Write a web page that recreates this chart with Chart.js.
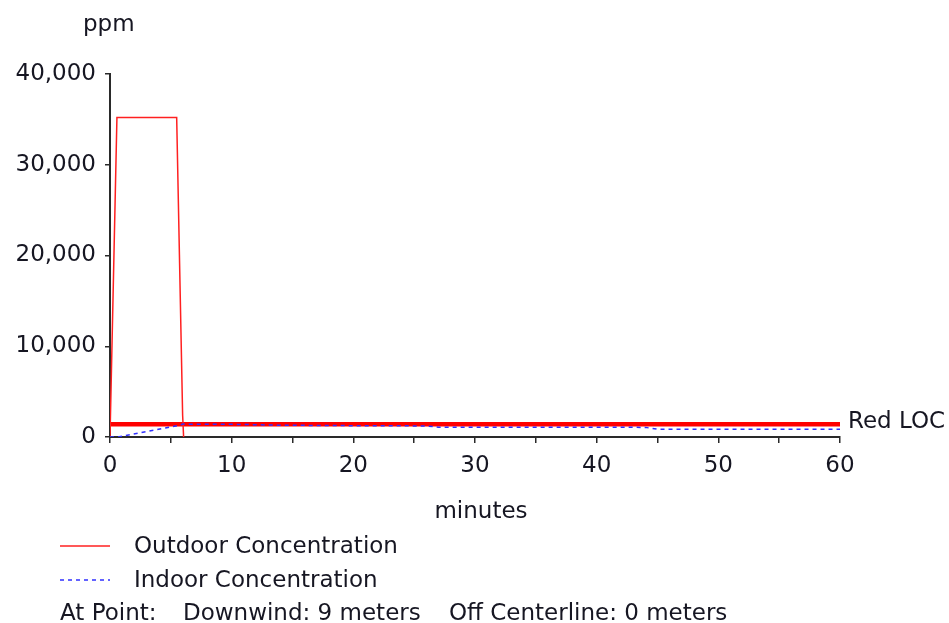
<!DOCTYPE html>
<html>
<head>
<meta charset="utf-8">
<script src="https://cdn.jsdelivr.net/npm/chart.js@4.4.0/dist/chart.umd.min.js"></script>
<style>
  html, body { margin: 0; padding: 0; background: #fff; }
  #wrap { width: 949px; height: 623px; }
</style>
</head>
<body>
<div id="wrap"><canvas id="chart" width="949" height="623"></canvas></div>
<script>
// ---------- Data ----------
const outdoorTime = [0, 0.57, 5.48, 5.97, 6.05];
const outdoorPpm  = [0, 35200, 35200, 2400, 0];

const indoorTime = [0, 0.6, 4.66, 5.5, 6, 10, 14, 20, 26, 27, 35, 44, 45, 60];
const indoorPpm  = [0, 0, 1025, 1240, 1420, 1400, 1300, 1250, 1220, 1080, 1070, 1060, 860, 860];

const locTime = [0, 60];
const locPpm  = [1400, 1400];

const yTicks = [0, 10000, 20000, 30000, 40000];
const xTicks = [0, 10, 20, 30, 40, 50, 60];

const FONT = "DejaVu Sans";
const FSIZE = 23;
const TXT = "#161622";

function pts(xs, ys) {
  return xs.map((x, i) => ({ x: x, y: ys[i] }));
}

// ---------- Extra labels (ppm, minutes, legend, footer) ----------
const labelsPlugin = {
  id: "labels",
  afterDraw(chart) {
    const ctx = chart.ctx;
    ctx.save();
    ctx.fillStyle = TXT;
    ctx.font = FSIZE + "px " + FONT;
    ctx.textBaseline = "alphabetic";

    ctx.textAlign = "left";
    ctx.fillText("ppm", 83, 31);

    ctx.textAlign = "center";
    ctx.fillText("minutes", 481, 518);

    // Red LOC label at end of the line
    const y = chart.scales.y.getPixelForValue(locPpm[1]);
    ctx.textAlign = "left";
    ctx.textBaseline = "middle";
    ctx.fillText("Red LOC", 848, y - 2);

    // legend
    ctx.strokeStyle = "#ff2020";
    ctx.lineWidth = 1.5;
    ctx.beginPath(); ctx.moveTo(60, 546); ctx.lineTo(110, 546); ctx.stroke();
    ctx.strokeStyle = "#3030ff";
    ctx.setLineDash([4, 4]);
    ctx.beginPath(); ctx.moveTo(60, 580); ctx.lineTo(110, 580); ctx.stroke();
    ctx.setLineDash([]);

    ctx.textBaseline = "alphabetic";
    ctx.fillText("Outdoor Concentration", 134, 553);
    ctx.fillText("Indoor Concentration", 134, 587);
    ctx.fillText("At Point:", 60, 620);
    ctx.fillText("Downwind: 9 meters", 183, 620);
    ctx.fillText("Off Centerline: 0 meters", 449, 620);
    ctx.restore();
  }
};

// ---------- Chart ----------
const ctx = document.getElementById("chart").getContext("2d");
new Chart(ctx, {
  type: "line",
  data: {
    datasets: [
      {
        label: "Indoor Concentration",
        data: pts(indoorTime, indoorPpm),
        borderColor: "#3030ff",
        borderWidth: 1.5,
        borderDash: [4, 4],
        pointRadius: 0,
        fill: false,
        order: 0
      },
      {
        label: "Outdoor Concentration",
        data: pts(outdoorTime, outdoorPpm),
        borderColor: "#ff2020",
        borderWidth: 1.5,
        pointRadius: 0,
        fill: false,
        order: 1
      },
      {
        label: "Red LOC",
        data: pts(locTime, locPpm),
        borderColor: "#ff0000",
        borderWidth: 4.5,
        pointRadius: 0,
        fill: false,
        order: 2
      }
    ]
  },
  options: {
    responsive: false,
    animation: false,
    layout: { padding: { top: 74, right: 109, left: 0, bottom: 0 } },
    plugins: {
      legend: { display: false },
      tooltip: { enabled: false },
      title: { display: false }
    },
    scales: {
      x: {
        type: "linear",
        min: 0,
        max: 60,
        afterFit: s => { s.height = 186; },
        afterBuildTicks: s => {
          s.ticks = [];
          for (let v = 0; v <= 60; v += 5) s.ticks.push({ value: v });
        },
        ticks: {
          callback: v => (xTicks.includes(v) ? String(v) : ""),
          color: TXT,
          font: { family: FONT, size: FSIZE },
          padding: 9,
          maxRotation: 0,
          autoSkip: false
        },
        grid: { drawOnChartArea: false, drawTicks: true, tickLength: 6, color: "#2a2a2a", lineWidth: 1.5 },
        border: { display: true, color: "#2a2a2a", width: 2 }
      },
      y: {
        min: 0,
        max: 40000,
        afterFit: s => { s.width = 110; },
        afterBuildTicks: s => { s.ticks = yTicks.map(v => ({ value: v })); },
        ticks: {
          callback: v => v.toLocaleString("en-US"),
          color: TXT,
          font: { family: FONT, size: FSIZE },
          padding: 9
        },
        grid: { drawOnChartArea: false, drawTicks: true, tickLength: 5, color: "#2a2a2a", lineWidth: 1.5 },
        border: { display: true, color: "#2a2a2a", width: 2 }
      }
    }
  },
  plugins: [labelsPlugin]
});
</script>
</body>
</html>
